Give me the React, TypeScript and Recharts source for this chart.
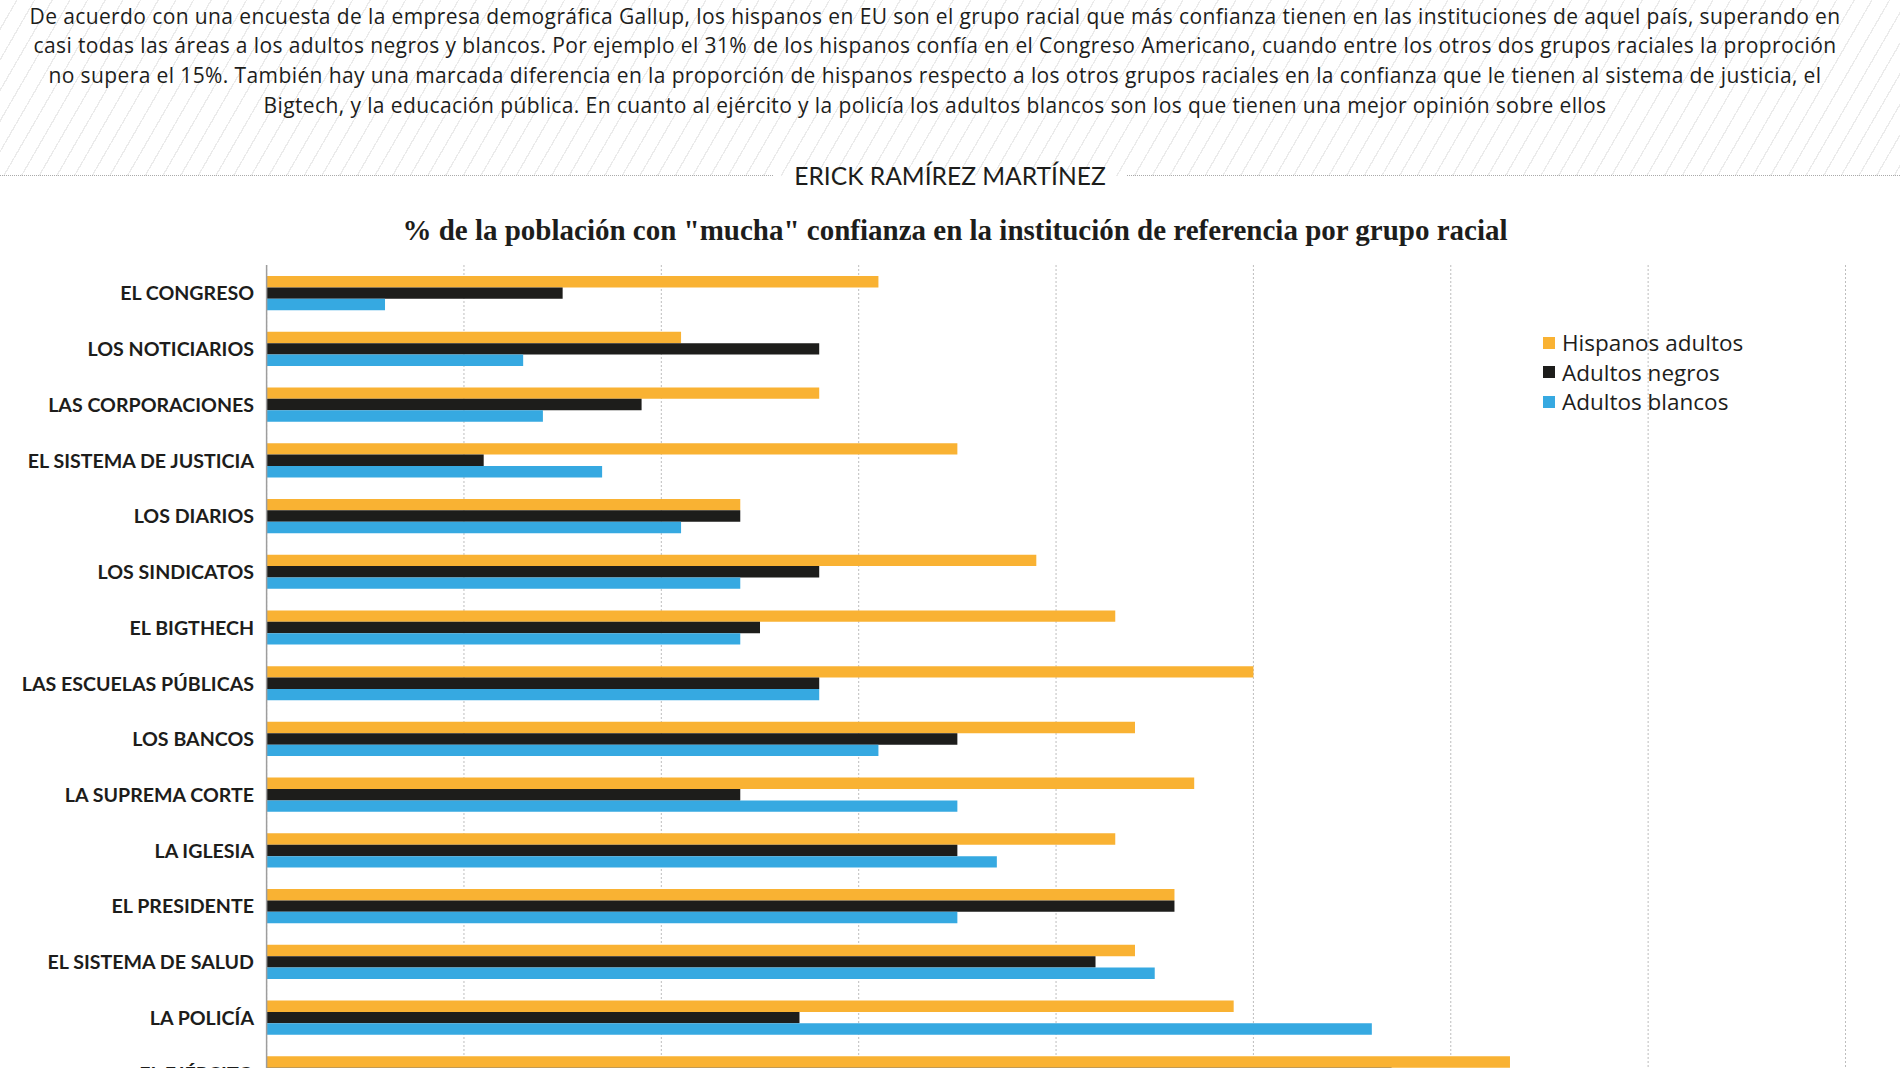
import { Bar, BarChart, CartesianGrid, Legend, XAxis, YAxis } from 'recharts';

const categories = [
  'EL CONGRESO',
  'LOS NOTICIARIOS',
  'LAS CORPORACIONES',
  'EL SISTEMA DE JUSTICIA',
  'LOS DIARIOS',
  'LOS SINDICATOS',
  'EL BIGTHECH',
  'LAS ESCUELAS PÚBLICAS',
  'LOS BANCOS',
  'LA SUPREMA CORTE',
  'LA IGLESIA',
  'EL PRESIDENTE',
  'EL SISTEMA DE SALUD',
  'LA POLICÍA',
  'EL EJÉRCITO'
];
const hispanos = [31, 21, 28, 35, 24, 39, 43, 50, 44, 47, 43, 46, 44, 49, 63];
const negros = [15, 28, 19, 11, 24, 28, 25, 28, 35, 24, 35, 46, 42, 27, 57];
const blancos = [6, 13, 14, 17, 21, 24, 24, 28, 31, 35, 37, 35, 45, 56, 68];
const xTicks = [0, 10, 20, 30, 40, 50, 60, 70, 80];
const seriesNames = ['Hispanos adultos', 'Adultos negros', 'Adultos blancos'];

const introLines = [
  'De acuerdo con una encuesta de la empresa demográfica Gallup, los hispanos en EU son el grupo racial que más confianza tienen en las instituciones de aquel país, superando en',
  'casi todas las áreas a los adultos negros y blancos. Por ejemplo el 31% de los hispanos confía en el Congreso Americano, cuando entre los otros dos grupos raciales la proproción',
  'no supera el 15%. También hay una marcada diferencia en la proporción de hispanos respecto a los otros grupos raciales en la confianza que le tienen al sistema de justicia, el',
  'Bigtech, y la educación pública. En cuanto al ejército y la policía los adultos blancos son los que tienen una mejor opinión sobre ellos'
];
const author = 'ERICK RAMÍREZ MARTÍNEZ';
const title = '% de la población con "mucha" confianza en la institución de referencia por grupo racial';

const ORANGE = '#F9B233';
const BLACK = '#1D1D1B';
const BLUE = '#36A9E1';

const chartData = categories.map((name, i) => ({
  name,
  hispanos: hispanos[i],
  negros: negros[i],
  blancos: blancos[i]
}));

// category labels, right aligned against the axis
const CategoryTick = (props: any) => {
  const { y, payload } = props;
  return (
    <text
      x={254}
      y={y}
      textAnchor="end"
      dominantBaseline="central"
      fontFamily="Lato, sans-serif"
      fontWeight={700}
      fontSize={19.6}
      fill={BLACK}
    >
      {payload.value}
    </text>
  );
};

// x ticks are only needed for the grid, the axis labels sit off-page
const NoTick = () => <g />;

const renderLegend = (props: any) => {
  // vertical layout hands the items over reversed, put them back in series order
  const items = [...props.payload].sort(
    (a: any, b: any) => seriesNames.indexOf(a.value) - seriesNames.indexOf(b.value)
  );
  return (
    <div style={{ fontFamily: '"Open Sans", sans-serif', fontSize: 22.5, color: BLACK }}>
      {items.map((entry: any) => (
        <div
          key={entry.value}
          style={{ display: 'flex', alignItems: 'center', height: 29.5 }}
        >
          <span
            style={{
              display: 'inline-block',
              width: 12,
              height: 12,
              background: entry.color,
              marginRight: 7
            }}
          />
          <span>{entry.value}</span>
        </div>
      ))}
    </div>
  );
};

export default function App() {
  return (
    <div
      style={{
        position: 'absolute',
        left: 0,
        top: 0,
        width: 1900,
        height: 1068,
        overflow: 'hidden',
        background: '#fff'
      }}
    >
      {/* hatched header band */}
      <div
        style={{
          position: 'absolute',
          left: 0,
          top: 0,
          width: 1900,
          height: 176,
          background:
            'repeating-linear-gradient(120deg, #ffffff 0px, #ffffff 14px, #ebebeb 14px, #ebebeb 15.3px)'
        }}
      />
      <div
        style={{
          position: 'absolute',
          left: 0,
          top: 1.5,
          width: 1870,
          fontFamily: '"Open Sans", sans-serif',
          fontSize: 21,
          letterSpacing: 0.39,
          lineHeight: '29.8px',
          color: BLACK,
          textAlign: 'center',
          whiteSpace: 'nowrap'
        }}
      >
        {introLines.map((line) => (
          <div key={line}>{line}</div>
        ))}
      </div>

      {/* dotted rule with author */}
      <div
        style={{
          position: 'absolute',
          left: 0,
          top: 175,
          width: 773,
          borderTop: '1px dotted #aaa'
        }}
      />
      <div
        style={{
          position: 'absolute',
          left: 1127,
          top: 175,
          width: 773,
          borderTop: '1px dotted #aaa'
        }}
      />
      <div
        style={{
          position: 'absolute',
          left: 0,
          top: 161,
          width: 1900,
          textAlign: 'center',
          fontFamily: 'Lato, sans-serif',
          fontSize: 24.6,
          color: BLACK
        }}
      >
        {author}
      </div>

      <div
        style={{
          position: 'absolute',
          left: 0,
          top: 214,
          width: 1910,
          textAlign: 'center',
          fontFamily: '"Liberation Serif", serif',
          fontWeight: 700,
          fontSize: 29,
          color: BLACK,
          whiteSpace: 'nowrap'
        }}
      >
        {title}
      </div>

      <div style={{ position: 'absolute', left: 0, top: 0 }}>
        <BarChart
          width={1900}
          height={1131}
          data={chartData}
          layout="vertical"
          margin={{ top: 265, right: 54.5, bottom: 0, left: 0 }}
          barGap={0}
          barSize={11.4}
        >
          <CartesianGrid
            horizontal={false}
            vertical
            stroke="#bdbdbd"
            strokeDasharray="2 2"
          />
          <XAxis
            type="number"
            domain={[0, 80]}
            ticks={xTicks}
            axisLine={false}
            tickLine={false}
            tick={<NoTick />}
          />
          <YAxis
            type="category"
            dataKey="name"
            width={266.6}
            axisLine={{ stroke: '#9d9d9d', strokeWidth: 1.5 }}
            tickLine={false}
            tick={<CategoryTick />}
            interval={0}
          />
          <Legend
            layout="vertical"
            align="center"
            verticalAlign="middle"
            content={renderLegend}
            wrapperStyle={{ left: 1543, top: 328, width: 260 }}
          />
          <Bar dataKey="hispanos" name={seriesNames[0]} fill={ORANGE} isAnimationActive={false} />
          <Bar dataKey="negros" name={seriesNames[1]} fill={BLACK} isAnimationActive={false} />
          <Bar dataKey="blancos" name={seriesNames[2]} fill={BLUE} isAnimationActive={false} />
        </BarChart>
      </div>
    </div>
  );
}
